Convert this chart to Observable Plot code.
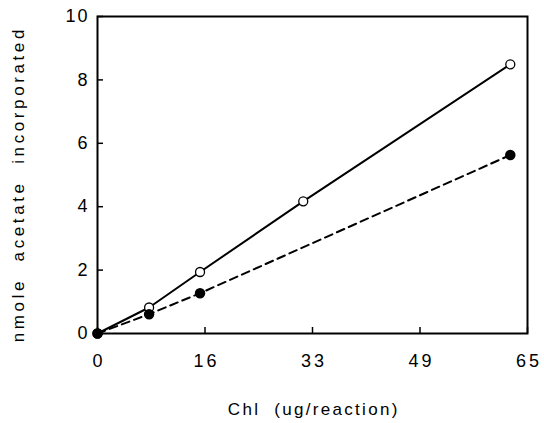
<!DOCTYPE html>
<html>
<head>
<meta charset="utf-8">
<script src="https://cdn.jsdelivr.net/npm/d3@7"></script>
<script src="https://cdn.jsdelivr.net/npm/@observablehq/plot@0.6"></script>
<style>
  html, body { margin: 0; padding: 0; background: #fff; }
  svg { font-family: "Liberation Sans", Arial, sans-serif; }
</style>
</head>
<body>
<div id="chart"></div>
<script>
// Open circles (solid line)
const openX = [0, 7.8, 15.5, 31.1, 62.4];
const openY = [0, 0.82, 1.94, 4.17, 8.49];
// Filled circles (dashed line)
const filledX = [0, 7.8, 15.5, 62.4];
const filledY = [0, 0.61, 1.27, 5.63];
// Axis ticks
const xTickValues = [0, 16.25, 32.5, 48.75, 65];
const xTickLabels = ["0", "16", "33", "49", "65"];
const yTickValues = [0, 2, 4, 6, 8, 10];
const yTickLabels = ["0", "2", "4", "6", "8", "10"];
const xTitle = "Chl  (ug/reaction)";
const yTitle = "nmole  acetate  incorporated";

const openData = openX.map((x, i) => ({x, y: openY[i]}));
const filledData = filledX.map((x, i) => ({x, y: filledY[i]}));

const W = 544, H = 423, mL = 97, mR = 17, mT = 16, mB = 90;
const innerW = W - mL - mR, innerH = H - mT - mB;

const chart = Plot.plot({
  width: W,
  height: H,
  marginLeft: mL,
  marginRight: mR,
  marginTop: mT,
  marginBottom: mB,
  style: {fontFamily: '"Liberation Sans", Arial, sans-serif', background: "#fff"},
  x: {domain: [0, 65]},
  y: {domain: [0, 10]},
  marks: [
    Plot.frame({stroke: "#000", strokeWidth: 2}),
    // inward tick marks
    Plot.tickX(xTickValues, {x: (d) => d, insetTop: innerH - 6, stroke: "#000", strokeWidth: 1.5}),
    Plot.tickY(yTickValues, {y: (d) => d, insetRight: innerW - 6, stroke: "#000", strokeWidth: 1.5}),
    Plot.axisX({
      ticks: xTickValues,
      tickFormat: (d) => xTickLabels[xTickValues.indexOf(d)],
      tickSize: 0,
      tickPadding: 21,
      fill: "#000",
      label: null
    }),
    Plot.axisY({
      ticks: yTickValues,
      tickFormat: (d) => yTickLabels[yTickValues.indexOf(d)],
      tickSize: 0,
      tickPadding: 10,
      fill: "#000",
      label: null
    }),
    Plot.line(openData, {x: "x", y: "y", stroke: "#000", strokeWidth: 2}),
    Plot.line(filledData, {x: "x", y: "y", stroke: "#000", strokeWidth: 2, strokeDasharray: "8,5"}),
    Plot.dot(openData, {x: "x", y: "y", r: 4.5, fill: "#fff", stroke: "#000", strokeWidth: 1.3}),
    Plot.dot(filledData, {x: "x", y: "y", r: 4.5, fill: "#000", stroke: "#000"}),
    Plot.text([xTitle], {
      frameAnchor: "bottom", dy: 81, fontSize: 17, fill: "#000"
    }),
    Plot.text([yTitle], {
      frameAnchor: "left", textAnchor: "middle", dx: -79, dy: 11, rotate: -90, fontSize: 17, fill: "#000"
    })
  ]
});
const svg = d3.select(chart);
svg.selectAll('g[aria-label="x-axis tick label"] text').style("font-size", "18px").attr("letter-spacing", 3).attr("dx", 1.5);
svg.selectAll('g[aria-label="y-axis tick label"] text').style("font-size", "18px").attr("letter-spacing", 2).attr("dx", 2);
svg.selectAll("text").filter(function () { return this.textContent === xTitle; })
  .attr("letter-spacing", 2.3).attr("dx", 1.2);
svg.selectAll("text").filter(function () { return this.textContent === yTitle; })
  .attr("letter-spacing", 3.6).attr("dx", 1.8);
document.getElementById("chart").appendChild(chart);
</script>
</body>
</html>
